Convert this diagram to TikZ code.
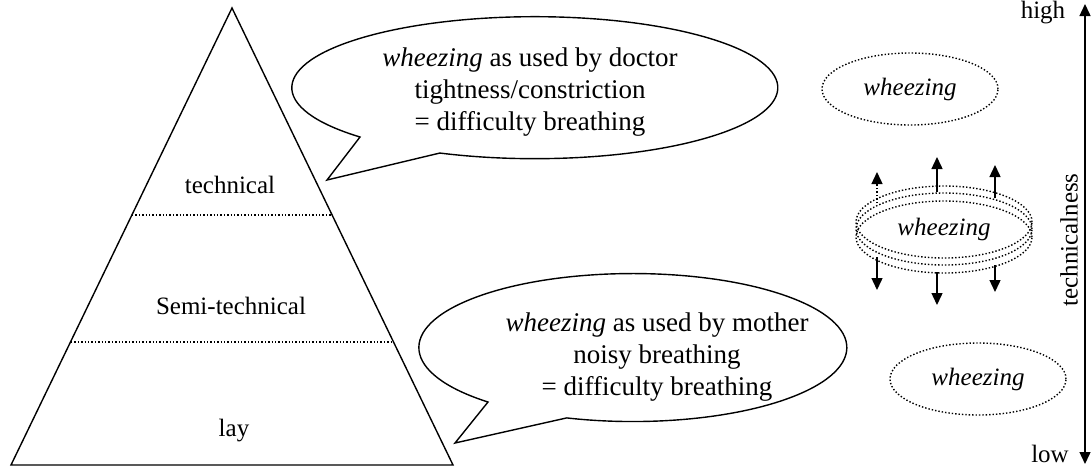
\documentclass[tikz,border=0pt]{standalone}
\usepackage{fontspec}
\setmainfont{Liberation Serif}
\usetikzlibrary{arrows.meta, shapes.geometric}

\begin{document}
\begin{tikzpicture}[x=0.5pt,y=-0.5pt,>={Triangle[length=6pt,width=5.5pt]},
  line width=0.7pt,
  level label/.style={font=\fontsize{12.5}{15}\selectfont},
  bubble text/.style={align=center,font=\fontsize{13.5}{16}\selectfont},
  ring/.style={ellipse,draw,densely dotted,inner sep=0pt,minimum width=88pt,minimum height=36pt,font=\fontsize{12.5}{15}\selectfont\itshape}]
  \useasboundingbox (0,0) rectangle (1091,467);

  % pyramid
  \coordinate (apex) at (232,8);
  \coordinate (baseL) at (11,465);
  \coordinate (baseR) at (453,465);
  \draw (apex) -- (baseL) -- (baseR) -- cycle;
  \draw[densely dotted] (132,215) -- (332,215);
  \draw[densely dotted] (71,342) -- (393,342);
  \node[level label] (tech) at (230,185) {technical};
  \node[level label] (semi) at (231,306) {Semi-technical};
  \node[level label] (lay) at (234,431) {lay};

  % speech bubbles
  \coordinate (tipD) at (327,180);
  \draw (360,137) arc[start angle=136,end angle=473,x radius=243,y radius=71]
    -- (tipD) -- cycle;
  \node[bubble text] (doctor) at (530,92)
    {\textit{wheezing} as used by doctor\\tightness/constriction\\= difficulty breathing};
  \coordinate (tipM) at (455,443);
  \draw (488,402) arc[start angle=132.6,end angle=468,x radius=214,y radius=74]
    -- (tipM) -- cycle;
  \node[bubble text] (mother) at (657,357)
    {\textit{wheezing} as used by mother\\noisy breathing\\= difficulty breathing};

  % wheezing rings
  \node[ring] (wHigh) at (910,89) {wheezing};
  \node[ring] (wMidA) at (944,222) {};
  \node[ring] (wMidB) at (944,229) {wheezing};
  \node[ring] (wMidC) at (944,237) {};
  \node[ring] (wLow) at (978,379) {wheezing};

  \foreach \n/\x/\ya/\yb in {1/937/192/157,2/995/198/165,3/877/257/290,4/937/272/305,5/995/265/292}
  {
    \coordinate (s\n) at (\x,\ya);
    \coordinate (e\n) at (\x,\yb);
    \draw[->] (s\n) -- (e\n);
  }
  \coordinate (s0) at (877,203);
  \coordinate (e0) at (877,172);
  \draw[densely dotted] (s0) -- (877,184);
  \draw[->] (877,185) -- (e0);

  % technicalness scale
  \coordinate (axTop) at (1085,4);
  \coordinate (axBot) at (1085,464);
  \draw[<->] (axTop) -- (axBot);
  \node[level label] (high) at (1043,13) {high};
  \node[level label] (low) at (1050,454) {low};
  \node[level label,rotate=90] (scale) at (1069,240) {technicalness};
\end{tikzpicture}
\end{document}
